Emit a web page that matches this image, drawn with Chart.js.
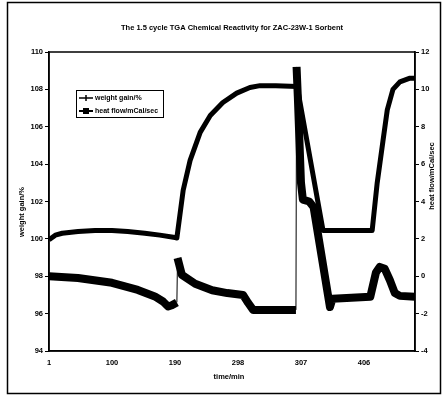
<!DOCTYPE html>
<html>
<head>
<meta charset="utf-8">
<script src="https://cdn.jsdelivr.net/npm/chart.js@4/dist/chart.umd.min.js"></script>
<style>
html, body { margin: 0; padding: 0; background: #fff; }
#wrap { width: 444px; height: 399px; }
</style>
</head>
<body>
<div id="wrap"><canvas id="mycanvas" width="444" height="399"></canvas></div>
<script>
// x positions are in tick-label steps (0 = "1", 1 = "100", ...)
var tickLabels = ["1", "100", "190", "298", "307", "406"];

var weightX = [0, 0.1, 0.21, 0.46, 0.73, 1.0, 1.25, 1.52, 1.76, 2.0, 2.03, 2.13, 2.24, 2.40, 2.56, 2.76, 2.98, 3.19, 3.35, 3.60, 3.94, 4.35, 4.6, 4.9, 5.13, 5.21, 5.30, 5.37, 5.46, 5.57, 5.73, 5.81];
var weightY = [99.95, 100.2, 100.3, 100.39, 100.45, 100.45, 100.39, 100.3, 100.2, 100.07, 100.05, 102.6, 104.2, 105.7, 106.6, 107.3, 107.8, 108.1, 108.2, 108.2, 108.15, 100.45, 100.45, 100.45, 100.45, 103.0, 105.2, 106.9, 108.0, 108.4, 108.6, 108.6];

var heatX = [0, 0.46, 1.0, 1.41, 1.68, 1.81, 1.89, 1.95, 2.03, 2.04, 2.11, 2.32, 2.59, 2.83, 3.08, 3.16, 3.24, 3.6, 3.92, 3.93, 3.95, 4.0, 4.03, 4.13, 4.20, 4.46, 4.5, 4.8, 5.1, 5.19, 5.25, 5.33, 5.41, 5.49, 5.57, 5.81];
var heatY = [0.0, -0.09, -0.35, -0.73, -1.08, -1.35, -1.62, -1.55, -1.4, 0.98, 0.07, -0.4, -0.75, -0.9, -1.0, -1.42, -1.8, -1.8, -1.8, 11.2, 9.6, 5.0, 4.1, 4.0, 3.7, -1.65, -1.2, -1.15, -1.1, 0.2, 0.5, 0.4, -0.2, -0.9, -1.05, -1.1];

var titleText = "The 1.5 cycle TGA Chemical Reactivity for ZAC-23W-1 Sorbent";
var xTitle = "time/min";
var yTitle = "weight gain/%";
var y1Title = "heat flow/mCal/sec";

var FONT = "'Liberation Sans', Arial, sans-serif";
Chart.defaults.font.family = FONT;
Chart.defaults.font.size = 7.5;
Chart.defaults.font.weight = 'bold';
Chart.defaults.color = '#000';

function pts(xs, ys) {
	var out = [];
	for (var i = 0; i < xs.length; i++) {
		out.push({x: xs[i], y: ys[i]});
	}
	return out;
}

var decor = {
	id: 'decor',
	beforeDraw: function(chart) {
		var c = chart.ctx;
		c.save();
		c.fillStyle = '#fff';
		c.fillRect(0, 0, chart.width, chart.height);
		c.strokeStyle = '#000';
		c.lineWidth = 1.5;
		c.strokeRect(7.5, 2.5, 433, 391);
		c.restore();
	},
	afterDraw: function(chart) {
		var c = chart.ctx;
		var a = chart.chartArea;
		c.save();
		c.strokeStyle = '#000';
		c.lineWidth = 1.5;
		c.strokeRect(a.left, a.top, a.right - a.left, a.bottom - a.top);

		c.fillStyle = '#000';
		c.font = 'bold 7.5px ' + FONT;
		c.textAlign = 'center';
		c.textBaseline = 'middle';
		c.fillText(titleText, 232, 28);
		c.fillText(xTitle, 229, 377);

		c.save();
		c.translate(22, 212);
		c.rotate(-Math.PI / 2);
		c.fillText(yTitle, 0, 0);
		c.restore();

		c.save();
		c.translate(432, 176);
		c.rotate(-Math.PI / 2);
		c.fillText(y1Title, 0, 0);
		c.restore();

		// legend box
		c.font = 'bold 7px ' + FONT;
		c.lineWidth = 1;
		c.strokeRect(76.5, 90.5, 87, 27);
		c.textAlign = 'left';
		var ds = chart.data.datasets;
		// weight gain entry
		c.lineWidth = 1.5;
		c.beginPath(); c.moveTo(79, 98); c.lineTo(93, 98); c.stroke();
		c.beginPath(); c.moveTo(86, 95); c.lineTo(86, 101); c.stroke();
		c.fillText(ds[0].label, 95, 98);
		// heat flow entry
		c.lineWidth = 2;
		c.beginPath(); c.moveTo(79, 111); c.lineTo(93, 111); c.stroke();
		c.fillRect(83, 108, 6, 6);
		c.fillText(ds[1].label, 95, 111);
		c.restore();
	}
};

var ctx = document.getElementById('mycanvas');

var new_chart = new Chart(ctx, {
	type: 'scatter',
	data: {
		datasets: [
			{
				label: 'weight gain/%',
				data: pts(weightX, weightY),
				yAxisID: 'y',
				showLine: true,
				borderColor: '#000',
				backgroundColor: '#000',
				borderWidth: 5,
				pointRadius: 0,
				borderJoinStyle: 'round'
			},
			{
				label: 'heat flow/mCal/sec',
				data: pts(heatX, heatY),
				yAxisID: 'y1',
				showLine: true,
				borderColor: '#000',
				backgroundColor: '#000',
				borderWidth: 8,
				pointRadius: 0,
				borderJoinStyle: 'round',
				segment: {
					borderWidth: function(s) {
						return Math.abs(s.p1.parsed.x - s.p0.parsed.x) < 0.015 ? 1 : 8;
					}
				}
			}
		]
	},
	plugins: [decor],
	options: {
		responsive: false,
		animation: false,
		devicePixelRatio: 1,
		layout: {padding: {top: 52, left: 0, right: 0, bottom: 0}},
		plugins: {
			legend: {display: false},
			title: {display: false},
			tooltip: {enabled: false}
		},
		scales: {
			x: {
				type: 'linear',
				min: 0,
				max: 5.81,
				afterBuildTicks: function(scale) {
					scale.ticks = scale.ticks.filter(function(t) { return Number.isInteger(t.value); });
				},
				afterFit: function(scale) { scale.height = 48; },
				ticks: {
					stepSize: 1,
					padding: 7,
					maxRotation: 0,
					callback: function(v) { return tickLabels[v] !== undefined ? tickLabels[v] : ''; }
				},
				grid: {display: false, drawTicks: false},
				border: {display: true, color: '#000', width: 1.5}
			},
			y: {
				position: 'left',
				min: 94,
				max: 110,
				afterFit: function(scale) { scale.width = 49; },
				ticks: {stepSize: 2, padding: 2},
				grid: {drawOnChartArea: false, color: '#000', tickLength: 4, lineWidth: 1},
				border: {display: true, color: '#000', width: 1.5}
			},
			y1: {
				position: 'right',
				min: -4,
				max: 12,
				afterFit: function(scale) { scale.width = 29; },
				ticks: {stepSize: 2, padding: 2},
				grid: {drawOnChartArea: false, color: '#000', tickLength: 4, lineWidth: 1},
				border: {display: true, color: '#000', width: 1.5}
			}
		}
	}
});
</script>
</body>
</html>
